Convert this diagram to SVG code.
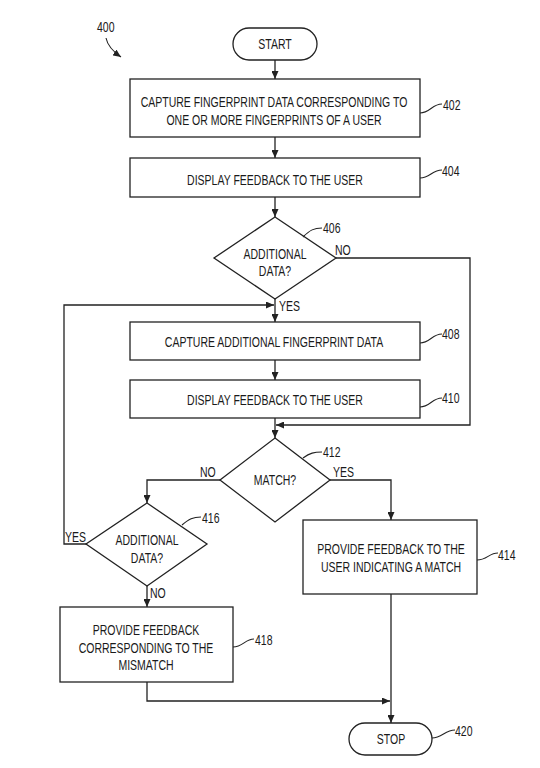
<svg xmlns="http://www.w3.org/2000/svg" width="540" height="768" viewBox="0 0 540 768">
<style>
.b{fill:#fff;stroke:#222;stroke-width:1.3}
.c{fill:none;stroke:#222;stroke-width:1.3}
.l{fill:none;stroke:#222;stroke-width:1.1}
text{font-family:"Liberation Sans",Arial,sans-serif;font-size:10.5px;fill:#1a1a1a}
.m{text-anchor:middle}
</style>
<defs>
<marker id="ah" markerUnits="userSpaceOnUse" markerWidth="8" markerHeight="7" refX="8" refY="3.5" orient="auto">
<path d="M0,0 L8,3.5 L0,7 z" fill="#222"/>
</marker>
</defs>
<rect width="540" height="768" fill="#fff"/>

<g id="label400">
<text transform="translate(97,32) scale(1,1.35)">400</text>
<path class="l" d="M106,38 Q108,48 121,57" marker-end="url(#ah)"/>
</g>

<g id="connectors">
<path class="c" d="M275,60 V79" marker-end="url(#ah)"/>
<path class="c" d="M275,137 V158" marker-end="url(#ah)"/>
<path class="c" d="M275,197 V217" marker-end="url(#ah)"/>
<path class="c" d="M275,299 V322" marker-end="url(#ah)"/>
<path class="c" d="M275,360 V380" marker-end="url(#ah)"/>
<path class="c" d="M275,418 V438" marker-end="url(#ah)"/>
<path class="c" d="M336,258 H470 V425 H276" marker-end="url(#ah)"/>
<path class="c" d="M220,480 H147 V503" marker-end="url(#ah)"/>
<path class="c" d="M330,480 H391 V520" marker-end="url(#ah)"/>
<path class="c" d="M86,544 H64 V305 H274" marker-end="url(#ah)"/>
<path class="c" d="M147,586 V607" marker-end="url(#ah)"/>
<path class="c" d="M147,682 V701 H390" marker-end="url(#ah)"/>
<path class="c" d="M391,594 V723" marker-end="url(#ah)"/>
</g>

<g id="start">
<rect class="b" x="233" y="28" width="84" height="32" rx="16"/>
<text class="m" transform="translate(275,49) scale(1,1.35)">START</text>
</g>

<g id="n402">
<rect class="b" x="130" y="79" width="290" height="58"/>
<text class="m" transform="translate(274,107) scale(1,1.35)">CAPTURE FINGERPRINT DATA CORRESPONDING TO</text>
<text class="m" transform="translate(274,125) scale(1,1.35)">ONE OR MORE FINGERPRINTS OF A USER</text>
<path class="l" d="M420,113 C430,113 432,104 442,104"/>
<text transform="translate(443,110) scale(1,1.35)">402</text>
</g>

<g id="n404">
<rect class="b" x="130" y="158" width="290" height="39"/>
<text class="m" transform="translate(275,185) scale(1,1.35)">DISPLAY FEEDBACK TO THE USER</text>
<path class="l" d="M420,178 C430,178 432,170 442,170"/>
<text transform="translate(442,176) scale(1,1.35)">404</text>
</g>

<g id="n406">
<polygon class="b" points="275,217 336,258 275,299 214,258"/>
<text class="m" transform="translate(275,259) scale(1,1.35)">ADDITIONAL</text>
<text class="m" transform="translate(275,276) scale(1,1.35)">DATA?</text>
<path class="l" d="M303,237 C310,230 314,228 322,228"/>
<text transform="translate(323,233) scale(1,1.35)">406</text>
<text transform="translate(335,255) scale(1,1.35)">NO</text>
<text transform="translate(279,311) scale(1,1.35)">YES</text>
</g>

<g id="n408">
<rect class="b" x="130" y="322" width="290" height="38"/>
<text class="m" transform="translate(274,347) scale(1,1.35)">CAPTURE ADDITIONAL FINGERPRINT DATA</text>
<path class="l" d="M420,343 C430,343 432,334 442,334"/>
<text transform="translate(442,339) scale(1,1.35)">408</text>
</g>

<g id="n410">
<rect class="b" x="130" y="380" width="290" height="38"/>
<text class="m" transform="translate(275,405) scale(1,1.35)">DISPLAY FEEDBACK TO THE USER</text>
<path class="l" d="M420,407 C430,407 432,398 442,398"/>
<text transform="translate(442,403) scale(1,1.35)">410</text>
</g>

<g id="n412">
<polygon class="b" points="275,438 330,480 275,522 220,480"/>
<text class="m" transform="translate(275,485) scale(1,1.35)">MATCH?</text>
<path class="l" d="M303,458 C310,453 314,452 322,452"/>
<text transform="translate(323,457) scale(1,1.35)">412</text>
<text transform="translate(200,477) scale(1,1.35)">NO</text>
<text transform="translate(333,477) scale(1,1.35)">YES</text>
</g>

<g id="n414">
<rect class="b" x="303" y="520" width="174" height="74"/>
<text class="m" transform="translate(391,554) scale(1,1.35)">PROVIDE FEEDBACK TO THE</text>
<text class="m" transform="translate(391,572) scale(1,1.35)">USER INDICATING A MATCH</text>
<path class="l" d="M477,560 C487,560 489,553 498,553"/>
<text transform="translate(498,560) scale(1,1.35)">414</text>
</g>

<g id="n416">
<polygon class="b" points="147,503 207,544 147,586 86,544"/>
<text class="m" transform="translate(147,545) scale(1,1.35)">ADDITIONAL</text>
<text class="m" transform="translate(147,563) scale(1,1.35)">DATA?</text>
<path class="l" d="M182,525 C189,519 193,517 201,517"/>
<text transform="translate(202,523) scale(1,1.35)">416</text>
<text transform="translate(65,542) scale(1,1.35)">YES</text>
<text transform="translate(150,598) scale(1,1.35)">NO</text>
</g>

<g id="n418">
<rect class="b" x="60" y="607" width="173" height="75"/>
<text class="m" transform="translate(146,635) scale(1,1.35)">PROVIDE FEEDBACK</text>
<text class="m" transform="translate(146,653) scale(1,1.35)">CORRESPONDING TO THE</text>
<text class="m" transform="translate(146,670) scale(1,1.35)">MISMATCH</text>
<path class="l" d="M233,647 C243,647 245,639 254,639"/>
<text transform="translate(255,645) scale(1,1.35)">418</text>
</g>

<g id="stop">
<rect class="b" x="349" y="723" width="83" height="32" rx="16"/>
<text class="m" transform="translate(391,744) scale(1,1.35)">STOP</text>
<path class="l" d="M432,738 C442,738 445,730 455,730"/>
<text transform="translate(455,736) scale(1,1.35)">420</text>
</g>
</svg>
